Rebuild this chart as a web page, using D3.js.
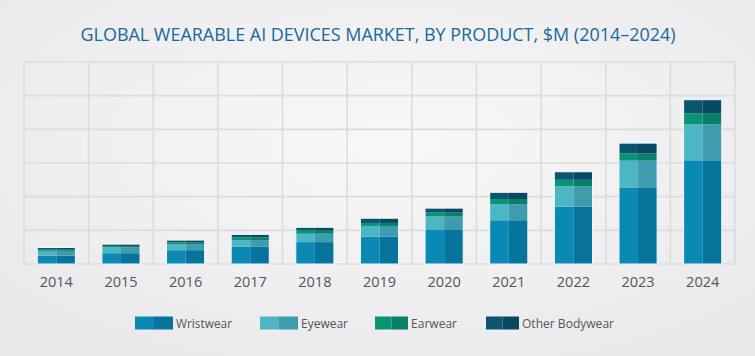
<!DOCTYPE html>
<html>
<head>
<meta charset="utf-8">
<script src="https://cdn.jsdelivr.net/npm/d3@7"></script>
<style>
  html, body { margin: 0; padding: 0; background: #efeff0; }
  svg { display: block; }
  text { font-family: "Open Sans", "DejaVu Sans", sans-serif; }
</style>
</head>
<body>
<svg id="chart" width="755" height="356"></svg>
<script>
const years = ["2014","2015","2016","2017","2018","2019","2020","2021","2022","2023","2024"];
const wristwear = [2.5, 3.2, 4.1, 5.2, 6.5, 8.1, 10.1, 13.0, 17.0, 22.6, 30.8];
const eyewear   = [1.4, 1.7, 1.7, 1.9, 2.5, 3.2, 4.1, 4.7, 6.1, 8.1, 10.7];
const earwear   = [0.4, 0.4, 0.6, 0.8, 1.1, 0.9, 1.2, 1.6, 1.9, 2.2, 3.3];
const otherBody = [0.6, 0.6, 0.7, 0.9, 0.8, 1.4, 1.2, 2.0, 2.4, 3.0, 4.0];
const seriesNames = ["Wristwear", "Eyewear", "Earwear", "Other Bodywear"];
const yTicks = [0, 10, 20, 30, 40, 50, 60];
const title = "GLOBAL WEARABLE AI DEVICES MARKET, BY PRODUCT, $M (2014\u20132024)";

const lightColors = ["#0a89b4", "#4cb6c5", "#0a9476", "#0c5571"];
const darkColors  = ["#06749b", "#3f9cae", "#087f68", "#074862"];

const svg = d3.select("#chart");
const W = 755, H = 356;

// background
const defs = svg.append("defs");
const rg = defs.append("radialGradient").attr("id", "bg")
  .attr("cx", "52%").attr("cy", "40%").attr("r", "70%");
rg.append("stop").attr("offset", "0%").attr("stop-color", "#f8f8f9");
rg.append("stop").attr("offset", "100%").attr("stop-color", "#e9e9eb");
svg.append("rect").attr("width", W).attr("height", H).attr("fill", "url(#bg)");

const table = years.map((y, i) => ({
  year: y,
  "Wristwear": wristwear[i],
  "Eyewear": eyewear[i],
  "Earwear": earwear[i],
  "Other Bodywear": otherBody[i]
}));

const x = d3.scaleBand().domain(years).range([24, 735]).padding(0);
const y = d3.scaleLinear().domain([0, 60]).range([264, 62]);

// grid
const grid = svg.append("g").attr("stroke", "#dcdcdd").attr("stroke-width", 1.6);
grid.selectAll("line.h").data(yTicks).join("line")
  .attr("x1", 24).attr("x2", 735)
  .attr("y1", d => y(d)).attr("y2", d => y(d));
const vx = years.map(d => x(d)).concat([x(years[years.length - 1]) + x.bandwidth()]);
grid.selectAll("line.v").data(vx).join("line")
  .attr("x1", d => d).attr("x2", d => d)
  .attr("y1", y(60)).attr("y2", y(0));

// bars
const stack = d3.stack().keys(seriesNames)(table);
const bw = x.bandwidth() * 0.59;
const barsG = svg.append("g");
stack.forEach((layer, si) => {
  const g = barsG.append("g");
  g.selectAll("rect.l").data(layer).join("rect")
    .attr("x", d => x(d.data.year) + (x.bandwidth() - bw) / 2)
    .attr("width", bw / 2)
    .attr("y", d => y(d[1]))
    .attr("height", d => y(d[0]) - y(d[1]))
    .attr("fill", lightColors[si]);
  g.selectAll("rect.r").data(layer).join("rect")
    .attr("x", d => x(d.data.year) + x.bandwidth() / 2)
    .attr("width", bw / 2)
    .attr("y", d => y(d[1]))
    .attr("height", d => y(d[0]) - y(d[1]))
    .attr("fill", darkColors[si]);
});
// bar outline
const totals = stack[stack.length - 1];
barsG.selectAll("rect.o").data(totals).join("rect")
  .attr("x", d => x(d.data.year) + (x.bandwidth() - bw) / 2)
  .attr("width", bw)
  .attr("y", d => y(d[1]))
  .attr("height", d => y(0) - y(d[1]))
  .attr("fill", "none")
  .attr("stroke", "#f4f7f9")
  .attr("stroke-width", 1);

// x axis labels
const xAxis = d3.axisBottom(x).tickSize(0).tickPadding(0);
const ax = svg.append("g").attr("transform", `translate(0,${y(0)})`).call(xAxis);
ax.select(".domain").remove();
ax.selectAll("text")
  .attr("y", 23)
  .attr("dy", 0)
  .attr("font-size", 14.5)
  .attr("fill", "#555555")
  .style("font-family", "'Open Sans', sans-serif");

// title
svg.append("text")
  .attr("x", 80.5).attr("y", 41)
  .attr("textLength", 595).attr("lengthAdjust", "spacingAndGlyphs")
  .attr("font-size", 19)
  .attr("fill", "#17699c")
  .text(title);

// legend
const legendX = [135, 260, 375, 486];
const swW = [38, 38, 33, 33];
const textW = [56, 47, 46, 92];
const leg = svg.append("g");
seriesNames.forEach((name, i) => {
  const g = leg.append("g").attr("transform", `translate(${legendX[i]},316.5)`);
  g.append("rect").attr("x", 0).attr("y", 0).attr("width", swW[i] / 2).attr("height", 13).attr("fill", lightColors[i]);
  g.append("rect").attr("x", swW[i] / 2).attr("y", 0).attr("width", swW[i] / 2).attr("height", 13).attr("fill", darkColors[i]);
  g.append("text").attr("x", swW[i] + 3).attr("y", 11).attr("font-size", 13)
    .attr("textLength", textW[i]).attr("lengthAdjust", "spacingAndGlyphs")
    .attr("fill", "#555555").text(name);
});
</script>
</body>
</html>
